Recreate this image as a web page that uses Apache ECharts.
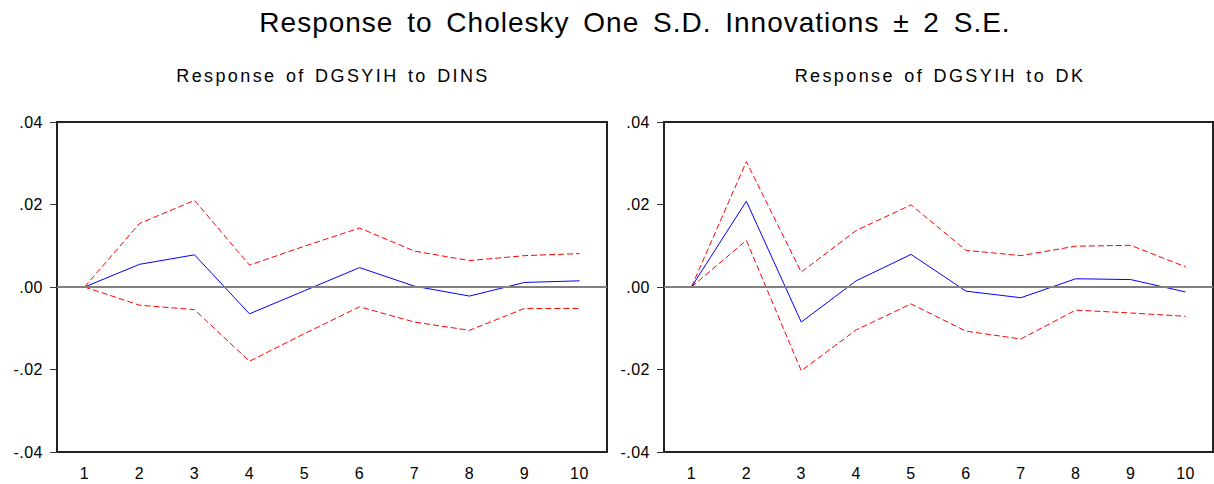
<!DOCTYPE html>
<html>
<head>
<meta charset="utf-8">
<script src="https://cdn.jsdelivr.net/npm/echarts@6/dist/echarts.min.js"></script>
<style>
  html, body { margin: 0; padding: 0; background: #fff; }
  #main { width: 1214px; height: 484px; }
  /* the original graph is drawn with loosely spaced Arial */
  #main text[style*="28px"] { letter-spacing: 1px; word-spacing: 5px; }
  #main text[style*="18px"] { letter-spacing: 2.4px; word-spacing: 2px; }
  #main text[style*="16px"] { letter-spacing: 0.5px; }
</style>
</head>
<body>
<div id="main"></div>
<script>
// periods
var periods = ['1', '2', '3', '4', '5', '6', '7', '8', '9', '10'];
var yTicks = [-0.04, -0.02, 0, 0.02, 0.04];

// Response of DGSYIH to DINS
var dinsResp  = [0, 0.0055, 0.0078, -0.0065, -0.0009, 0.0047, 0.0002, -0.0022, 0.0011, 0.0015];
var dinsUpper = [0, 0.0154, 0.0210, 0.0053, 0.0099, 0.0143, 0.0087, 0.0064, 0.0076, 0.0081];
var dinsLower = [0, -0.0044, -0.0055, -0.0180, -0.0113, -0.0048, -0.0085, -0.0105, -0.0052, -0.0052];

// Response of DGSYIH to DK
var dkResp  = [0, 0.0208, -0.0085, 0.0015, 0.0079, -0.0010, -0.0026, 0.0020, 0.0018, -0.0012];
var dkUpper = [0, 0.0304, 0.0036, 0.0137, 0.0199, 0.0089, 0.0076, 0.0099, 0.0101, 0.0049];
var dkLower = [0, 0.0113, -0.0203, -0.0104, -0.0041, -0.0107, -0.0126, -0.0056, -0.0063, -0.0071];

var chart = echarts.init(document.getElementById('main'), null, { renderer: 'svg' });

function fmt(v) {
  return v.toFixed(2).replace('0.', '.');
}

function xAx(i) {
  return {
    type: 'category',
    gridIndex: i,
    data: periods,
    boundaryGap: true,
    axisLine: { onZero: false, lineStyle: { color: '#222', width: 2 } },
    axisTick: { length: 8, lineStyle: { color: '#333', width: 1 } },
    axisLabel: { color: '#000', fontSize: 16, fontFamily: 'Liberation Sans', margin: 13 },
    splitLine: { show: false }
  };
}

function yAx(i) {
  return {
    type: 'value',
    gridIndex: i,
    min: yTicks[0],
    max: yTicks[yTicks.length - 1],
    interval: 0.02,
    axisLine: { show: true, lineStyle: { color: '#222', width: 2 } },
    axisTick: { show: true, length: 7, lineStyle: { color: '#333', width: 1 } },
    axisLabel: { color: '#000', fontSize: 16, fontFamily: 'Liberation Sans', margin: 14, formatter: fmt },
    splitLine: { show: false }
  };
}

function band(name, data, i) {
  return {
    name: name, type: 'line', xAxisIndex: i, yAxisIndex: i,
    data: data, symbol: 'none', silent: true,
    lineStyle: { color: '#ff0000', width: 1, type: [6, 3] }
  };
}

function resp(name, data, i) {
  return {
    name: name, type: 'line', xAxisIndex: i, yAxisIndex: i,
    data: data, symbol: 'none', silent: true, z: 3,
    lineStyle: { color: '#0000ff', width: 1 },
    markLine: {
      silent: true, symbol: 'none', label: { show: false },
      lineStyle: { color: '#808080', width: 2, type: 'solid' },
      data: [{ yAxis: 0 }]
    }
  };
}

var option = {
  backgroundColor: '#fff',
  animation: false,
  title: [
    {
      text: 'Response to Cholesky One S.D. Innovations ± 2 S.E.',
      left: 630, top: 3, textAlign: 'center',
      textStyle: { fontSize: 28, fontWeight: 'normal', color: '#000', fontFamily: 'Liberation Sans' }
    },
    {
      text: 'Response of DGSYIH to DINS',
      left: 328, top: 62, textAlign: 'center',
      textStyle: { fontSize: 18, fontWeight: 'normal', color: '#000', fontFamily: 'Liberation Sans' }
    },
    {
      text: 'Response of DGSYIH to DK',
      left: 935, top: 62, textAlign: 'center',
      textStyle: { fontSize: 18, fontWeight: 'normal', color: '#000', fontFamily: 'Liberation Sans' }
    }
  ],
  grid: [
    { left: 57, top: 122, width: 550, height: 330, show: true, borderColor: '#222', borderWidth: 2 },
    { left: 664, top: 122, width: 549, height: 330, show: true, borderColor: '#222', borderWidth: 2 }
  ],
  xAxis: [xAx(0), xAx(1)],
  yAxis: [yAx(0), yAx(1)],
  series: [
    band('DINS upper', dinsUpper, 0),
    band('DINS lower', dinsLower, 0),
    resp('DINS', dinsResp, 0),
    band('DK upper', dkUpper, 1),
    band('DK lower', dkLower, 1),
    resp('DK', dkResp, 1)
  ]
};

chart.setOption(option);
</script>
</body>
</html>
